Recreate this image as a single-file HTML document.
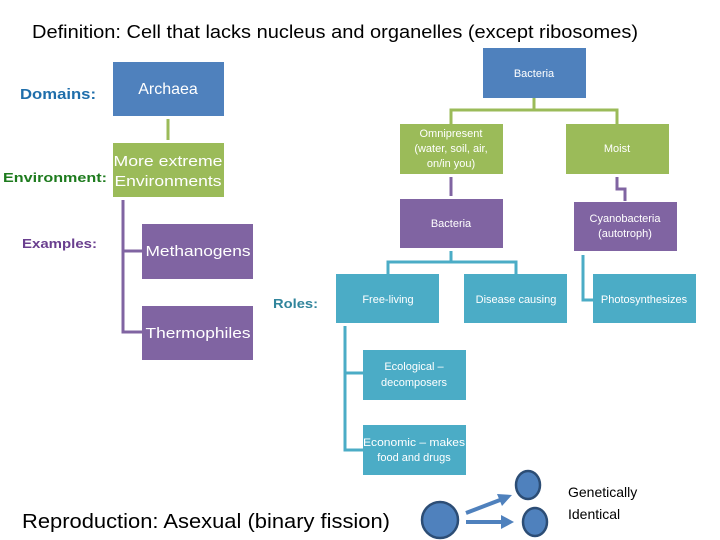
<!DOCTYPE html>
<html><head><meta charset="utf-8"><style>html,body{margin:0;padding:0;background:#fff}svg{display:block}</style></head><body>
<svg width="720" height="540" viewBox="0 0 720 540" xmlns="http://www.w3.org/2000/svg" font-family="Liberation Sans, sans-serif">
<text x="32" y="38" font-size="18" textLength="606" lengthAdjust="spacingAndGlyphs">Definition: Cell that lacks nucleus and organelles (except ribosomes)</text>
<!-- labels -->
<text x="20" y="99" font-size="15" font-weight="bold" fill="#1f6eab" textLength="76" lengthAdjust="spacingAndGlyphs">Domains:</text>
<text x="3" y="182" font-size="13" font-weight="bold" fill="#1e7b1e" textLength="104" lengthAdjust="spacingAndGlyphs">Environment:</text>
<text x="22" y="248" font-size="13" font-weight="bold" fill="#6a3f8f" textLength="75" lengthAdjust="spacingAndGlyphs">Examples:</text>
<text x="273" y="308" font-size="13" font-weight="bold" fill="#31859c" textLength="45" lengthAdjust="spacingAndGlyphs">Roles:</text>
<!-- Archaea side -->
<rect x="113" y="62" width="111" height="54" fill="#4f81bd"/>
<text x="168" y="94" font-size="16" fill="#fff" text-anchor="middle">Archaea</text>
<line x1="168" y1="119" x2="168" y2="140" stroke="#9bbb59" stroke-width="3"/>
<rect x="113" y="143" width="111" height="54" fill="#9bbb59"/>
<text x="168" y="166" font-size="15" fill="#fff" text-anchor="middle" textLength="109" lengthAdjust="spacingAndGlyphs">More extreme</text>
<text x="168" y="186" font-size="15" fill="#fff" text-anchor="middle" textLength="107" lengthAdjust="spacingAndGlyphs">Environments</text>
<path d="M123 200 V332 H142 M123 251 H142" fill="none" stroke="#8064a2" stroke-width="3"/>
<rect x="142" y="224" width="111" height="55" fill="#8064a2"/>
<text x="198" y="256" font-size="15" fill="#fff" text-anchor="middle" textLength="105" lengthAdjust="spacingAndGlyphs">Methanogens</text>
<rect x="142" y="306" width="111" height="54" fill="#8064a2"/>
<text x="198" y="338" font-size="15" fill="#fff" text-anchor="middle" textLength="105" lengthAdjust="spacingAndGlyphs">Thermophiles</text>
<!-- Bacteria side -->
<rect x="483" y="48" width="103" height="50" fill="#4f81bd"/>
<text x="534" y="77" font-size="11" fill="#fff" text-anchor="middle">Bacteria</text>
<path d="M534 98 V110 M451 124 V110 H617 V124" fill="none" stroke="#9bbb59" stroke-width="3"/>
<rect x="400" y="124" width="103" height="50" fill="#9bbb59"/>
<text x="451" y="137" font-size="11" fill="#fff" text-anchor="middle">Omnipresent</text>
<text x="451" y="152" font-size="11" fill="#fff" text-anchor="middle">(water, soil, air,</text>
<text x="451" y="167" font-size="11" fill="#fff" text-anchor="middle">on/in you)</text>
<rect x="566" y="124" width="103" height="50" fill="#9bbb59"/>
<text x="617" y="152" font-size="11" fill="#fff" text-anchor="middle">Moist</text>
<line x1="451" y1="177" x2="451" y2="196" stroke="#8064a2" stroke-width="3"/>
<path d="M617 177 V189 H625 V201" fill="none" stroke="#8064a2" stroke-width="3"/>
<rect x="400" y="199" width="103" height="49" fill="#8064a2"/>
<text x="451" y="227" font-size="11" fill="#fff" text-anchor="middle">Bacteria</text>
<rect x="574" y="202" width="103" height="49" fill="#8064a2"/>
<text x="625" y="222" font-size="11" fill="#fff" text-anchor="middle">Cyanobacteria</text>
<text x="625" y="237" font-size="11" fill="#fff" text-anchor="middle">(autotroph)</text>
<path d="M451 251 V262 M388 274 V262 H516 V274" fill="none" stroke="#4bacc6" stroke-width="3"/>
<path d="M583 255 V300 H593" fill="none" stroke="#4bacc6" stroke-width="3"/>
<rect x="336" y="274" width="103" height="49" fill="#4bacc6"/>
<text x="388" y="303" font-size="11" fill="#fff" text-anchor="middle">Free-living</text>
<rect x="464" y="274" width="103" height="49" fill="#4bacc6"/>
<text x="516" y="303" font-size="11" fill="#fff" text-anchor="middle">Disease causing</text>
<rect x="593" y="274" width="103" height="49" fill="#4bacc6"/>
<text x="644" y="303" font-size="11" fill="#fff" text-anchor="middle">Photosynthesizes</text>
<path d="M345 326 V450 H363 M345 373 H363" fill="none" stroke="#4bacc6" stroke-width="3"/>
<rect x="363" y="350" width="103" height="50" fill="#4bacc6"/>
<text x="414" y="370" font-size="11" fill="#fff" text-anchor="middle">Ecological –</text>
<text x="414" y="386" font-size="11" fill="#fff" text-anchor="middle">decomposers</text>
<rect x="363" y="425" width="103" height="50" fill="#4bacc6"/>
<text x="414" y="446" font-size="11" fill="#fff" text-anchor="middle" textLength="102" lengthAdjust="spacingAndGlyphs">Economic – makes</text>
<text x="414" y="461" font-size="11" fill="#fff" text-anchor="middle">food and drugs</text>
<!-- reproduction -->
<text x="22" y="528" font-size="20" textLength="368" lengthAdjust="spacingAndGlyphs">Reproduction: Asexual (binary fission)</text>
<circle cx="440" cy="520" r="18" fill="#4f81bd" stroke="#2c4d75" stroke-width="2.5"/>
<ellipse cx="528" cy="485" rx="12" ry="14" fill="#4f81bd" stroke="#2c4d75" stroke-width="2.5"/>
<ellipse cx="535" cy="522" rx="12" ry="14" fill="#4f81bd" stroke="#2c4d75" stroke-width="2.5"/>
<line x1="466" y1="513" x2="500" y2="500" stroke="#4f81bd" stroke-width="4"/>
<polygon points="512,495 497,494 502,506" fill="#4f81bd"/>
<line x1="466" y1="522" x2="502" y2="522" stroke="#4f81bd" stroke-width="4"/>
<polygon points="514,522 501,515 501,529" fill="#4f81bd"/>
<text x="568" y="497" font-size="14">Genetically</text>
<text x="568" y="519" font-size="14">Identical</text>
</svg>
</body></html>
